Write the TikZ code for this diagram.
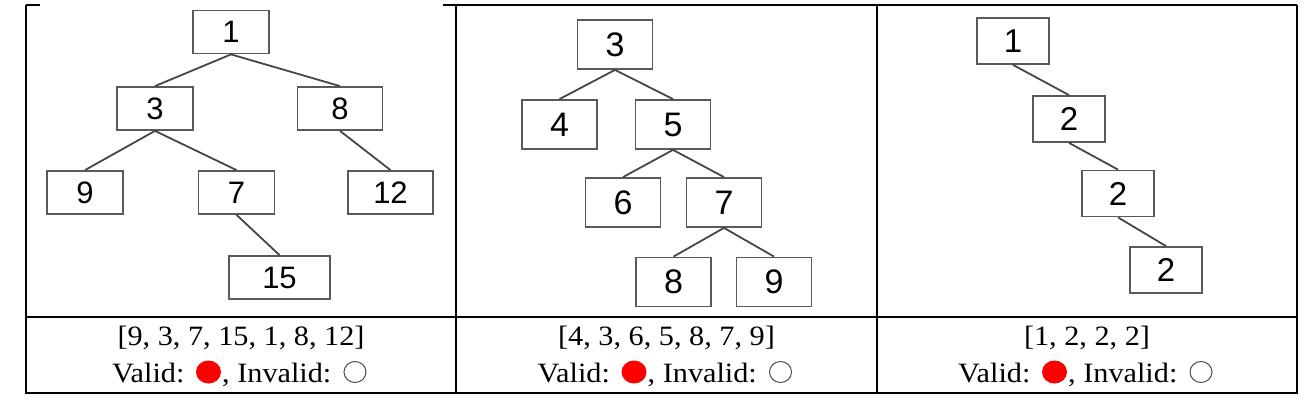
\documentclass[tikz,border=0pt]{standalone}
\usepackage{fontspec}
\setmainfont{Liberation Serif}
\newfontfamily\arialf{Liberation Sans}
\usetikzlibrary{shapes.geometric}
\tikzset{
  tline/.style={line width=1.5pt, draw=black},
  bx/.style={draw=gray!70!black, line width=1.8pt, fill=white, inner sep=0pt, font=\arialf\fontsize{31}{31}\selectfont},
  bxA/.style={bx, minimum width=76pt, minimum height=43pt},
  bxB/.style={bx, minimum width=75pt, minimum height=49pt, font=\arialf\fontsize{34}{34}\selectfont},
  bxC/.style={bx, minimum width=72pt, minimum height=46pt, font=\arialf\fontsize{33}{33}\selectfont},
  edge/.style={draw=gray!55!black, line width=1.8pt},
  lbl/.style={inner sep=0pt, font=\fontsize{28}{28}\selectfont},
  redc/.style={ellipse, fill=red, inner sep=0pt, minimum width=25pt, minimum height=23pt},
  openc/.style={ellipse, draw=gray!60!black, line width=1pt, inner sep=0pt, minimum width=22pt, minimum height=21pt}
}
\newcommand{\sx}[1]{\scalebox{1.08}[1]{#1}}
\begin{document}
\begin{tikzpicture}[x=1pt, y=-1pt]
\useasboundingbox (0,0) rectangle (1315,401);
% table
\draw[tline] (26,5) -- (40,5);
\draw[tline] (443,5) -- (1297,5);
\draw[tline] (26,5) -- (26,393) -- (1297,393) -- (1297,5);
\draw[tline] (456,5) -- (456,393);
\draw[tline] (877,5) -- (877,393);
\draw[tline] (26,317) -- (1297,317);

% panel 1
\node[bxA] (p1n1) at (231,32) {1};
\node[bxA] (p1n3) at (155,108.5) {3};
\node[bxA, minimum width=85pt] (p1n8) at (340,108.5) {8};
\node[bxA] (p1n9) at (85,192.5) {9};
\node[bxA] (p1n7) at (236.5,192.5) {7};
\node[bxA, minimum width=85pt] (p1n12) at (390.5,192.5) {12};
\node[bxA, minimum width=101pt] (p1n15) at (279.5,277.5) {15};
\draw[edge] (p1n1.south) -- (p1n3.north);
\draw[edge] (p1n1.south) -- (p1n8.north);
\draw[edge] (p1n3.south) -- (p1n9.north);
\draw[edge] (p1n3.south) -- (p1n7.north);
\draw[edge] (p1n8.south) -- (p1n12.north);
\draw[edge] (p1n7.south) -- (p1n15.north);

% panel 2
\node[bxB] (p2n3) at (615,44.5) {3};
\node[bxB] (p2n4) at (559.5,124.5) {4};
\node[bxB] (p2n5) at (673,124.5) {5};
\node[bxB] (p2n6) at (623,202.5) {6};
\node[bxB] (p2n7) at (724,202.5) {7};
\node[bxB] (p2n8) at (673.5,282) {8};
\node[bxB] (p2n9) at (774,282) {9};
\draw[edge] (p2n3.south) -- (p2n4.north);
\draw[edge] (p2n3.south) -- (p2n5.north);
\draw[edge] (p2n5.south) -- (p2n6.north);
\draw[edge] (p2n5.south) -- (p2n7.north);
\draw[edge] (p2n7.south) -- (p2n8.north);
\draw[edge] (p2n7.south) -- (p2n9.north);

% panel 3
\node[bxC] (p3n1) at (1013,41) {1};
\node[bxC] (p3n2a) at (1069,119) {2};
\node[bxC] (p3n2b) at (1118,193.5) {2};
\node[bxC] (p3n2c) at (1166,270) {2};
\draw[edge] (p3n1.south) -- (p3n2a.north);
\draw[edge] (p3n2a.south) -- (p3n2b.north);
\draw[edge] (p3n2b.south) -- (p3n2c.north);

% captions
\node[lbl, anchor=base] (c1) at (241,345) {\sx{[9, 3, 7, 15, 1, 8, 12]}};
\node[lbl, anchor=base] (c2) at (666.5,345) {\sx{[4, 3, 6, 5, 8, 7, 9]}};
\node[lbl, anchor=base] (c3) at (1087,345) {\sx{[1, 2, 2, 2]}};

\foreach \c/\n in {241/a, 666.5/b, 1087/c} {
  \node[lbl, anchor=base west] (va\n) at (\c-129,382) {\sx{Valid:}};
  \node[redc] (rc\n) at (\c-32.5,372) {};
  \node[lbl, anchor=base west] (iv\n) at (\c-19,382) {\sx{, Invalid:}};
  \node[openc] (oc\n) at (\c+114,372) {};
}
\end{tikzpicture}
\end{document}
